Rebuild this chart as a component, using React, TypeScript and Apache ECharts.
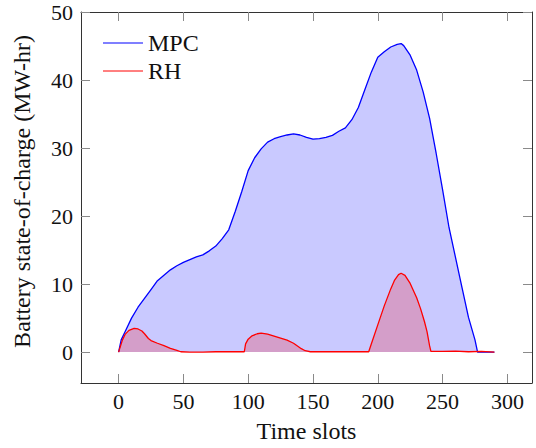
import React, { useEffect, useRef } from "react";
import * as echarts from "echarts";

const xTicks = [0, 50, 100, 150, 200, 250, 300];
const yTicks = [0, 10, 20, 30, 40, 50];
const legendNames = ["MPC", "RH"];

const mpcSlots = [0, 2, 5, 10, 15, 20, 25, 30, 35, 40, 45, 50, 55, 60, 65, 70, 75, 80, 85, 90, 95, 100, 105, 110, 115, 120, 125, 130, 135, 140, 145, 150, 155, 160, 165, 170, 175, 180, 185, 190, 195, 200, 205, 210, 215, 218, 220, 225, 230, 235, 240, 245, 250, 255, 260, 265, 270, 275, 277, 290];
const mpcValues = [0, 1.8, 3.0, 5.0, 6.6, 7.9, 9.2, 10.5, 11.3, 12.1, 12.7, 13.2, 13.6, 14.0, 14.3, 14.9, 15.6, 16.7, 18.0, 20.7, 23.6, 26.7, 28.6, 29.9, 30.9, 31.4, 31.7, 31.95, 32.1, 31.95, 31.6, 31.35, 31.4, 31.6, 31.9, 32.5, 33.0, 34.2, 36.0, 38.6, 41.2, 43.4, 44.2, 44.9, 45.3, 45.4, 45.1, 43.7, 41.5, 38.3, 34.4, 29.3, 23.9, 18.3, 13.9, 9.5, 5.1, 1.8, 0, 0];

const rhSlots = [0, 3, 5, 8, 12, 15, 18, 20, 23, 25, 30, 35, 40, 45, 48, 55, 65, 75, 85, 97, 98, 100, 103, 107, 110, 115, 120, 125, 130, 135, 138, 141, 144, 148, 160, 175, 190, 193, 195, 200, 205, 210, 213, 216, 218, 221, 225, 230, 233, 236, 238, 240, 241, 250, 260, 270, 280, 290];
const rhValues = [0, 1.8, 2.6, 3.2, 3.5, 3.4, 3.1, 2.7, 2.0, 1.7, 1.3, 0.95, 0.55, 0.25, 0.05, 0, 0, 0.05, 0.05, 0.05, 1.2, 1.9, 2.4, 2.7, 2.8, 2.65, 2.35, 2.05, 1.75, 1.3, 0.9, 0.5, 0.2, 0.05, 0.05, 0.05, 0.05, 0.05, 1.2, 4.0, 6.8, 9.3, 10.6, 11.4, 11.6, 11.3, 10.1, 8.0, 6.4, 4.5, 3.0, 0.9, 0.1, 0.1, 0.15, 0.05, 0.1, 0];

const FONT = "Liberation Serif";

export default function App() {
  const ref = useRef<HTMLDivElement>(null);
  useEffect(() => {
    if (!ref.current) return;
    const chart = echarts.init(ref.current, null, { renderer: "svg" });
    const axisLine = { show: true, onZero: false, lineStyle: { color: "#333", width: 1 } };
    const tickStyle = { color: "#8a8a8a", width: 1 };
    const legendColors = ["#7f7fff", "#ff0000"];
    const legendWidths = [2, 1];
    const legendGraphic = legendNames.flatMap((name, i) => {
      const y = 43 + i * 28;
      return [
        {
          type: "line",
          shape: { x1: 103, y1: y, x2: 143, y2: y },
          style: { stroke: legendColors[i], lineWidth: legendWidths[i] },
          z: 10,
        },
        {
          type: "text",
          x: 148,
          y: y,
          style: {
            text: name,
            fill: "#111",
            font: `24px ${FONT}`,
            verticalAlign: "middle",
            align: "left",
          },
          z: 10,
        },
      ];
    });
    chart.setOption({
      animation: false,
      textStyle: { fontFamily: FONT },
      grid: { left: 81, top: 12, right: 4, bottom: 61, containLabel: false },
      graphic: legendGraphic,
      xAxis: [
        {
          type: "value",
          min: -29,
          max: 319,
          name: "Time slots",
          nameLocation: "middle",
          nameGap: 36,
          nameTextStyle: { fontFamily: FONT, fontSize: 24, color: "#111" },
          axisLine,
          splitLine: { show: false },
          axisTick: { show: true, inside: true, length: 9, lineStyle: tickStyle, customValues: xTicks },
          axisLabel: { fontFamily: FONT, fontSize: 22, color: "#111", margin: 7, customValues: xTicks },
        },
        {
          type: "value",
          position: "top",
          min: -29,
          max: 319,
          axisLine,
          splitLine: { show: false },
          axisTick: { show: true, inside: true, length: 9, lineStyle: tickStyle, customValues: xTicks },
          axisLabel: { show: false },
        },
      ],
      yAxis: [
        {
          type: "value",
          min: -4.55,
          max: 50.05,
          name: "Battery state-of-charge (MW-hr)",
          nameLocation: "middle",
          nameGap: 47,
          nameTextStyle: { fontFamily: FONT, fontSize: 24, color: "#111", padding: [0, 0, 0, 12] },
          axisLine,
          splitLine: { show: false },
          axisTick: { show: true, inside: true, length: 9, lineStyle: tickStyle, customValues: yTicks },
          axisLabel: { fontFamily: FONT, fontSize: 22, color: "#111", margin: 8, customValues: yTicks },
        },
        {
          type: "value",
          position: "right",
          min: -4.55,
          max: 50.05,
          axisLine,
          splitLine: { show: false },
          axisTick: { show: true, inside: true, length: 9, lineStyle: tickStyle, customValues: yTicks },
          axisLabel: { show: false },
        },
      ],
      series: [
        {
          name: legendNames[0],
          type: "line",
          xAxisIndex: 0,
          yAxisIndex: 0,
          symbol: "none",
          data: mpcSlots.map((t, i) => [t, mpcValues[i]]),
          lineStyle: { color: "#0000ff", width: 1.3 },
          itemStyle: { color: "#0000ff" },
          areaStyle: { color: "rgba(0,0,255,0.3)", origin: 0 },
          z: 2,
        },
        {
          name: legendNames[1],
          type: "line",
          xAxisIndex: 0,
          yAxisIndex: 0,
          symbol: "none",
          data: rhSlots.map((t, i) => [t, rhValues[i]]),
          lineStyle: { color: "#ff0000", width: 1.3 },
          itemStyle: { color: "#ff0000" },
          areaStyle: { color: "rgba(255,0,0,0.3)", origin: 0 },
          z: 3,
        },
      ],
    });
    return () => chart.dispose();
  }, []);
  return (
    <div
      ref={ref}
      style={{ position: "fixed", left: 0, top: 0, width: 536, height: 448, background: "#fff" }}
    />
  );
}
